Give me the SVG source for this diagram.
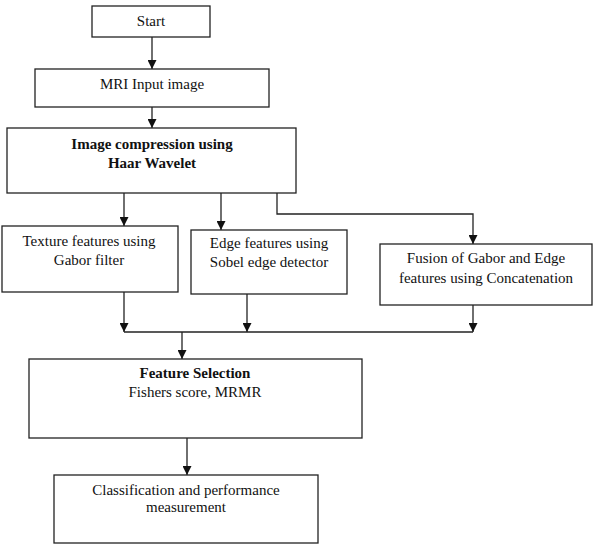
<svg xmlns="http://www.w3.org/2000/svg" width="594" height="550" viewBox="0 0 594 550">
<style>
.box{fill:#fff;stroke:#222;stroke-width:1.3}
.t{font-family:"Liberation Serif","Times New Roman",serif;font-size:15px;fill:#111;text-anchor:middle}
.b{font-weight:bold}
.c{fill:none;stroke:#222;stroke-width:1.3}
</style>
<defs>
<marker id="ah" markerUnits="userSpaceOnUse" markerWidth="10" markerHeight="9" refX="9" refY="4.5" orient="auto" viewBox="0 0 10 9">
<path d="M0,0 L9,4.5 L0,9 z" fill="#111"/>
</marker>
</defs>
<rect width="594" height="550" fill="#fff"/>
<g id="connectors">
<line class="c" x1="152" y1="37" x2="152" y2="69" marker-end="url(#ah)"/>
<line class="c" x1="152" y1="107" x2="152" y2="128" marker-end="url(#ah)"/>
<line class="c" x1="124" y1="193" x2="124" y2="226" marker-end="url(#ah)"/>
<line class="c" x1="221" y1="193" x2="221" y2="230" marker-end="url(#ah)"/>
<polyline class="c" points="277,193 277,214 473,214 473,244" marker-end="url(#ah)"/>
<line class="c" x1="124" y1="292" x2="124" y2="332" marker-end="url(#ah)"/>
<line class="c" x1="247" y1="294" x2="247" y2="332" marker-end="url(#ah)"/>
<line class="c" x1="473" y1="305" x2="473" y2="332" marker-end="url(#ah)"/>
<line class="c" x1="124" y1="332" x2="473" y2="332"/>
<line class="c" x1="182" y1="332" x2="182" y2="359" marker-end="url(#ah)"/>
<line class="c" x1="187" y1="438" x2="187" y2="475" marker-end="url(#ah)"/>
</g>
<g id="start">
<rect class="box" x="92" y="6" width="118" height="31"/>
<text class="t" x="151" y="26">Start</text>
</g>
<g id="mri">
<rect class="box" x="35" y="69" width="234" height="38"/>
<text class="t" x="152" y="89">MRI Input image</text>
</g>
<g id="compression">
<rect class="box" x="7" y="128" width="289" height="65"/>
<text class="t b" x="152" y="149">Image compression using</text>
<text class="t b" x="152" y="168">Haar Wavelet</text>
</g>
<g id="texture">
<rect class="box" x="2" y="226" width="176" height="66"/>
<text class="t" x="89" y="246">Texture features using</text>
<text class="t" x="89" y="265">Gabor filter</text>
</g>
<g id="edge">
<rect class="box" x="191" y="230" width="156" height="64"/>
<text class="t" x="269" y="248">Edge features using</text>
<text class="t" x="269" y="267">Sobel edge detector</text>
</g>
<g id="fusion">
<rect class="box" x="380" y="244" width="212" height="61"/>
<text class="t" x="486" y="263">Fusion of Gabor and Edge</text>
<text class="t" x="486" y="283">features using Concatenation</text>
</g>
<g id="selection">
<rect class="box" x="29" y="359" width="333" height="79"/>
<text class="t b" x="195" y="378">Feature Selection</text>
<text class="t" x="195" y="397">Fishers score, MRMR</text>
</g>
<g id="classification">
<rect class="box" x="54" y="475" width="264" height="68"/>
<text class="t" x="186" y="495">Classification and performance</text>
<text class="t" x="186" y="512">measurement</text>
</g>
</svg>
